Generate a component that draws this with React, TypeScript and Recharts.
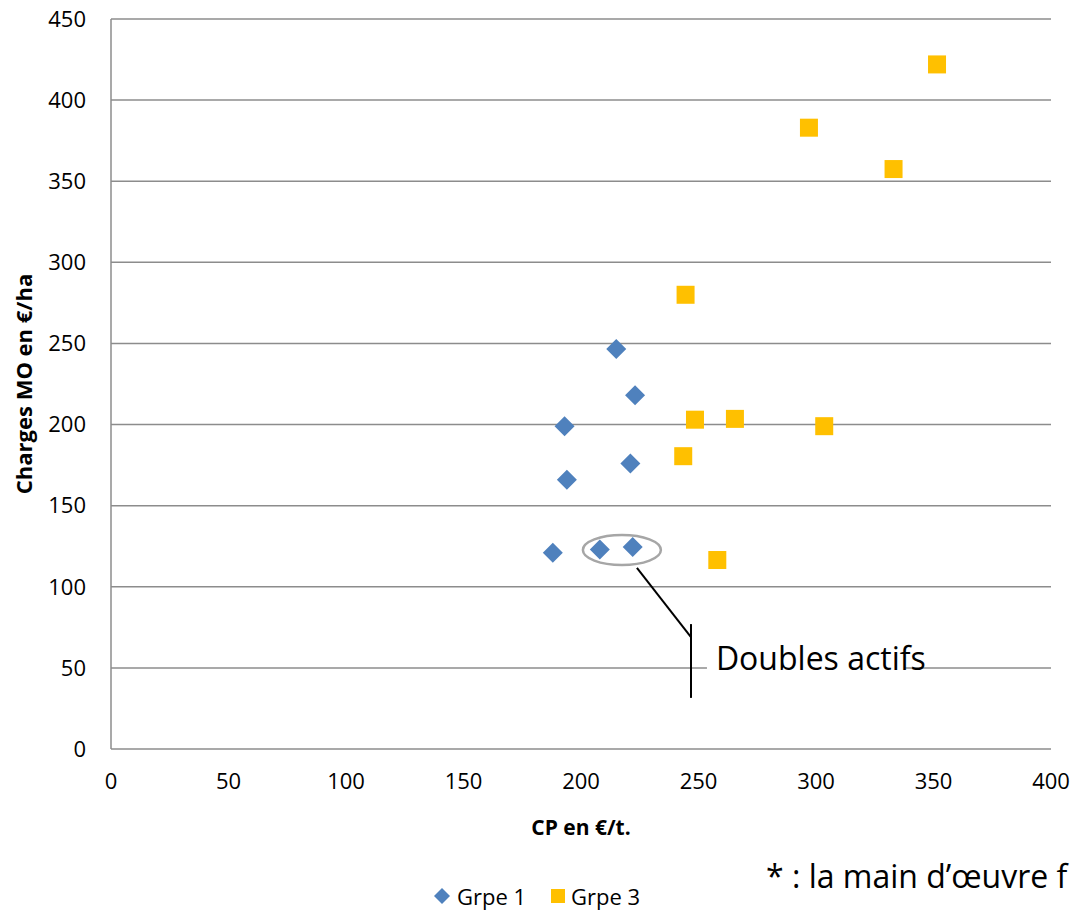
import React from "react";
import {
  ScatterChart,
  Scatter,
  XAxis,
  YAxis,
  CartesianGrid,
  ReferenceLine,
  ReferenceDot,
  ReferenceArea,
} from "recharts";

// values
const grpe1Cp = [188, 208, 222, 194, 193, 221, 223, 215];
const grpe1Mo = [121, 123, 124.5, 166, 199, 176, 218, 246.5];
const grpe3Cp = [351.5, 297, 333, 244.5, 248.5, 265.5, 303.5, 243.5, 258];
const grpe3Mo = [422, 383, 357.5, 280, 203, 203.5, 199, 180.5, 116.5];

const xTicks = [0, 50, 100, 150, 200, 250, 300, 350, 400];
const yTicks = [0, 50, 100, 150, 200, 250, 300, 350, 400, 450];

const grpe1 = grpe1Cp.map((cp, i) => ({ cp, mo: grpe1Mo[i] }));
const grpe3 = grpe3Cp.map((cp, i) => ({ cp, mo: grpe3Mo[i] }));

const BLUE = "#4F81BD";
const GOLD = "#FFC000";
const GRID = "#8c8c8c";
const FONT = "'Open Sans', sans-serif";

const Diamond = (props: any) => {
  const { cx, cy } = props;
  const r = 10;
  return (
    <polygon
      points={`${cx},${cy - r} ${cx + r},${cy} ${cx},${cy + r} ${cx - r},${cy}`}
      fill={BLUE}
    />
  );
};

const Square = (props: any) => {
  const { cx, cy } = props;
  const s = 18;
  return <rect x={cx - s / 2} y={cy - s / 2} width={s} height={s} fill={GOLD} />;
};

export default function App() {
  return (
    <div
      style={{
        position: "absolute",
        left: 0,
        top: 0,
        width: 1073,
        height: 910,
        overflow: "hidden",
        background: "#fff",
        fontFamily: FONT,
      }}
    >
      <ScatterChart
        width={1073}
        height={910}
        margin={{ top: 19, right: 22, bottom: 66, left: 0 }}
      >
        <CartesianGrid vertical={false} stroke={GRID} strokeWidth={1.5} />
        <XAxis
          type="number"
          dataKey="cp"
          domain={[0, 400]}
          ticks={xTicks}
          axisLine={false}
          tickLine={false}
          tickSize={0}
          tickMargin={24}
          height={95}
          tick={{ fill: "#000", fontSize: 22, fontFamily: FONT }}
          label={{
            value: "CP en €/t.",
            position: "insideBottom",
            offset: 9,
            style: { fontSize: 21, fontWeight: 700, fill: "#000", fontFamily: FONT },
          }}
        />
        <YAxis
          type="number"
          dataKey="mo"
          domain={[0, 450]}
          ticks={yTicks}
          width={111}
          axisLine={{ stroke: GRID, strokeWidth: 1.5 }}
          tickLine={false}
          tickSize={0}
          tickMargin={25}
          tick={{ fill: "#000", fontSize: 22, fontFamily: FONT }}
          label={{
            value: "Charges MO en €/ha",
            angle: -90,
            position: "insideLeft",
            offset: 24,
            style: {
              textAnchor: "middle",
              fontSize: 22,
              fontWeight: 700,
              fill: "#000",
              fontFamily: FONT,
            },
          }}
        />
        {/* annotation "Doubles actifs" */}
        <ReferenceArea
          x1={253.6}
          x2={338}
          y1={46}
          y2={54}
          fill="#fff"
          fillOpacity={1}
          stroke="none"
        />
        <ReferenceLine
          segment={[
            { x: 223.8, y: 111.6 },
            { x: 246.8, y: 69 },
          ]}
          stroke="#000"
          strokeWidth={2}
        />
        <ReferenceLine
          segment={[
            { x: 246.8, y: 77 },
            { x: 246.8, y: 31.5 },
          ]}
          stroke="#000"
          strokeWidth={2}
        />
        <ReferenceDot
          x={217.4}
          y={122.7}
          r={0}
          shape={(p: any) => (
            <ellipse
              cx={p.cx}
              cy={p.cy}
              rx={39}
              ry={15}
              fill="none"
              stroke="#a6a6a6"
              strokeWidth={2.5}
            />
          )}
        />
        <ReferenceDot
          x={257.4}
          y={56.5}
          r={0}
          shape={(p: any) => (
            <text
              x={p.cx}
              y={p.cy}
              dominantBaseline="central"
              fontSize={32}
              fontFamily={FONT}
              fill="#000"
            >
              Doubles actifs
            </text>
          )}
        />
        <Scatter
          name="Grpe 1"
          data={grpe1}
          shape={<Diamond />}
          isAnimationActive={false}
        />
        <Scatter
          name="Grpe 3"
          data={grpe3}
          shape={<Square />}
          isAnimationActive={false}
        />
      </ScatterChart>

      {/* legend */}
      <div
        style={{
          position: "absolute",
          left: 433,
          top: 881,
          display: "flex",
          alignItems: "center",
          fontSize: 22,
          color: "#000",
          whiteSpace: "nowrap",
        }}
      >
        <svg width={18} height={18} style={{ marginRight: 6 }}>
          <polygon points="9,1 17,9 9,17 1,9" fill={BLUE} />
        </svg>
        <span>Grpe 1</span>
        <svg width={16} height={16} style={{ marginLeft: 24, marginRight: 5 }}>
          <rect x={1} y={1} width={14} height={14} fill={GOLD} />
        </svg>
        <span>Grpe 3</span>
      </div>

      {/* footnote, cut by the right edge */}
      <div
        style={{
          position: "absolute",
          left: 766,
          top: 854,
          fontSize: 32,
          color: "#000",
          whiteSpace: "nowrap",
        }}
      >
        * : la main d’œuvre f
      </div>
    </div>
  );
}
